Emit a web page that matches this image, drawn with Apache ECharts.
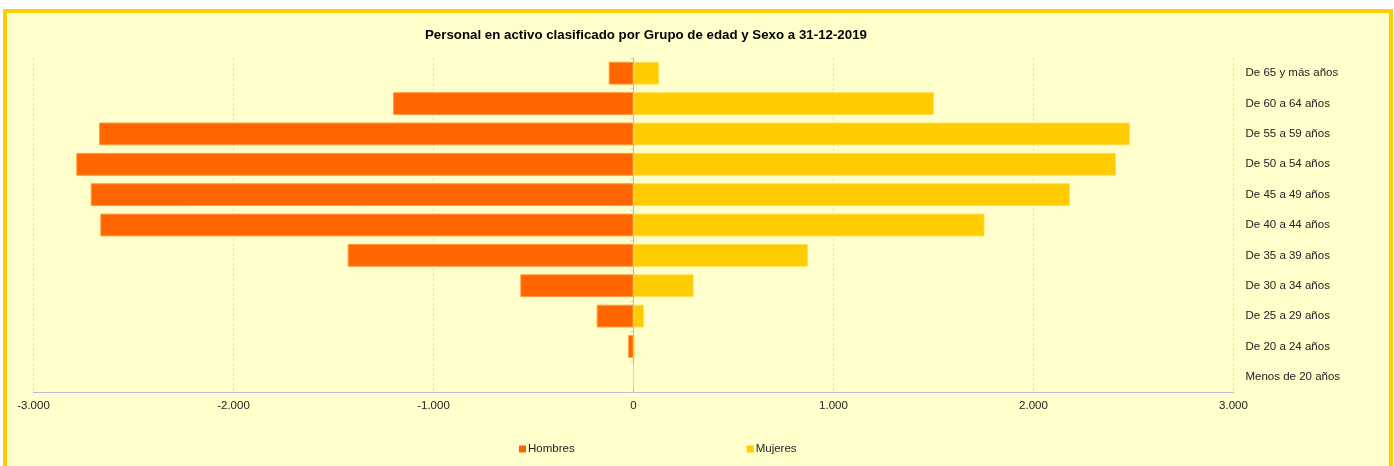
<!DOCTYPE html>
<html>
<head>
<meta charset="utf-8">
<script src="https://cdn.jsdelivr.net/npm/echarts@6/dist/echarts.min.js"></script>
<style>
  html, body { margin: 0; padding: 0; background: #fff; }
  #marco {
    position: absolute; left: 3px; top: 9px; width: 1390px; height: 470px;
    box-sizing: border-box; border: 4px solid #FFCC00; background: #FFFFCC;
  }
  #grafico { position: absolute; left: 0; top: 0; width: 1394px; height: 466px; }
</style>
</head>
<body>
<div id="marco"></div>
<div id="grafico"></div>
<script>
// grupos de edad, de arriba a abajo
var grupos = ['De 65 y más años', 'De 60 a 64 años', 'De 55 a 59 años', 'De 50 a 54 años',
    'De 45 a 49 años', 'De 40 a 44 años', 'De 35 a 39 años', 'De 30 a 34 años',
    'De 25 a 29 años', 'De 20 a 24 años', 'Menos de 20 años'];
// hombres a la izquierda (negativos)
var hombres = [-124, -1202, -2672, -2786, -2714, -2666, -1429, -566, -184, -27, 0];
var mujeres = [127, 1502, 2482, 2412, 2182, 1755, 872, 301, 53, 4, 0];
var ticksX = [-3000, 3000, 1000]; // min, max, intervalo

var fuente = 'Liberation Sans';

function miles(v) {
    var s = String(Math.abs(v)).replace(/\B(?=(\d{3})+(?!\d))/g, '.');
    return (v < 0 ? '-' : '') + s;
}

var myChart = echarts.init(document.getElementById('grafico'));

option = {
    backgroundColor: 'transparent',
    textStyle: { fontFamily: fuente },
    title: {
        text: 'Personal en activo clasificado por Grupo de edad y Sexo a 31-12-2019',
        left: 425, top: 29, padding: 0,
        textStyle: { fontSize: 13.3, fontWeight: 'bold', color: '#000', fontFamily: fuente }
    },
    legend: {
        data: ['Hombres', 'Mujeres'],
        left: 519, top: 443, padding: 0,
        itemWidth: 7, itemHeight: 7, itemGap: 172,
        icon: 'rect',
        itemStyle: { borderWidth: 0 },
        textStyle: { fontSize: 11.5, color: '#222', fontFamily: fuente, padding: [2, 0, 0, -3] }
    },
    grid: { left: 33.5, width: 1200, top: 58, height: 334, containLabel: false },
    xAxis: {
        type: 'value',
        min: ticksX[0], max: ticksX[1], interval: ticksX[2],
        axisLine: { show: true, onZero: false, lineStyle: { color: '#bcbcd4', width: 1 } },
        axisTick: { show: false },
        axisLabel: { formatter: miles, fontSize: 11.5, color: '#222', margin: 8 },
        splitLine: { show: true, lineStyle: { color: '#e2e2cc', type: [3, 2], width: 1 } }
    },
    yAxis: [
        {
            type: 'category', data: grupos, inverse: true,
            axisLine: { show: true, onZero: true, lineStyle: { color: '#b8b8b8' } },
            axisTick: { show: true, length: 3, lineStyle: { color: '#d0d0c0' } },
            axisLabel: { show: false },
            splitLine: { show: false }
        },
        {
            type: 'category', data: grupos, inverse: true, position: 'right',
            axisLine: { show: false },
            axisTick: { show: false },
            axisLabel: { show: true, fontSize: 11.5, color: '#222', margin: 12 },
            splitLine: { show: false }
        }
    ],
    series: [
        {
            name: 'Hombres', type: 'bar', stack: 'total', yAxisIndex: 0,
            barCategoryGap: '25%',
            itemStyle: { color: '#FF6600', borderColor: '#FF9A40', borderWidth: 1 },
            data: hombres
        },
        {
            name: 'Mujeres', type: 'bar', stack: 'total', yAxisIndex: 0,
            barCategoryGap: '25%',
            itemStyle: { color: '#FFCC00', borderColor: '#FFDD55', borderWidth: 1 },
            data: mujeres
        }
    ]
};

myChart.setOption(option);
</script>
</body>
</html>
